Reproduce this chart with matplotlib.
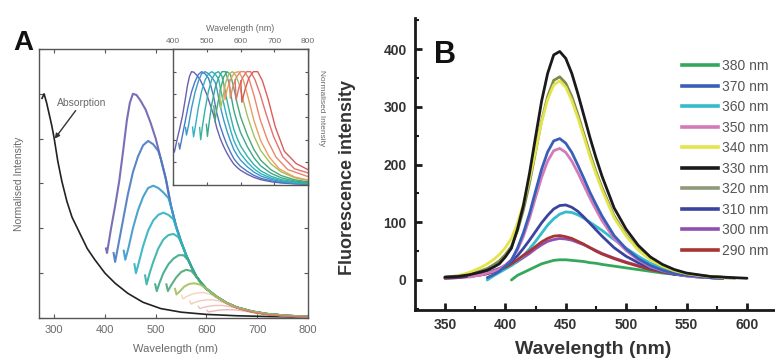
import numpy as np
import matplotlib
matplotlib.use("Agg")
import matplotlib.pyplot as plt
from matplotlib.ticker import MultipleLocator
from matplotlib.lines import Line2D

plt.rcParams['font.family'] = ['Liberation Sans', 'DejaVu Sans']

# ---------------- Panel A: absorption + excitation-dependent emission ----------------
abs_wl = [276, 280, 285, 290, 295, 300, 307, 315, 325, 335, 350, 365, 380, 400, 420,
          445, 475, 510, 550, 600, 660, 730, 800]
abs_int = [0.98, 1.0, 0.96, 0.91, 0.86, 0.80, 0.70, 0.61, 0.52, 0.45, 0.38, 0.31, 0.26,
           0.20, 0.155, 0.11, 0.07, 0.042, 0.026, 0.016, 0.010, 0.006, 0.004]

# common red tail shared by the strong emission curves
tail_wl = [500, 510, 520, 530, 540, 550, 560, 570, 580, 590, 600, 620, 640, 660, 690, 720, 760, 800]
tail_int = [0.80, 0.71, 0.62, 0.50, 0.41, 0.34, 0.28, 0.23, 0.185, 0.155, 0.13, 0.095, 0.067,
            0.047, 0.029, 0.018, 0.010, 0.006]

# rising part of each emission curve (continues on the common tail)
c1_wl = [402, 404, 412, 420, 428, 436, 443, 449, 455, 462, 470, 480, 490]
c1_int = [0.31, 0.29, 0.40, 0.50, 0.61, 0.75, 0.88, 0.96, 1.0, 0.995, 0.97, 0.93, 0.87]
c2_wl = [417, 420, 425, 435, 445, 455, 465, 475, 485, 495, 505]
c2_int = [0.29, 0.25, 0.31, 0.43, 0.55, 0.65, 0.72, 0.77, 0.79, 0.775, 0.745]
c3_wl = [437, 440, 446, 455, 465, 475, 485, 495, 505, 515, 525]
c3_int = [0.30, 0.26, 0.31, 0.40, 0.48, 0.54, 0.58, 0.59, 0.58, 0.56, 0.535]
c4_wl = [458, 461, 467, 475, 485, 495, 505, 515, 525, 535, 545]
c4_int = [0.24, 0.20, 0.25, 0.32, 0.39, 0.435, 0.46, 0.47, 0.46, 0.44, 0.37]
c5_wl = [479, 482, 488, 495, 505, 515, 525, 535, 545, 555]
c5_int = [0.19, 0.15, 0.20, 0.25, 0.31, 0.35, 0.37, 0.375, 0.36, 0.31]
c6_wl = [499, 502, 508, 515, 525, 535, 545, 555, 565]
c6_int = [0.15, 0.12, 0.16, 0.20, 0.24, 0.265, 0.28, 0.28, 0.255]
c7_wl = [521, 524, 530, 540, 550, 560, 570, 580]
c7_int = [0.15, 0.12, 0.145, 0.18, 0.205, 0.215, 0.21, 0.185]
c8_wl = [538, 541, 548, 556, 566, 576, 586, 596]
c8_int = [0.13, 0.105, 0.12, 0.14, 0.152, 0.155, 0.15, 0.138]

# weak red-edge emission curves (complete)
p1_wl = [551, 554, 560, 570, 582, 595, 608, 622, 640, 660, 685, 715, 760, 800]
p1_int = [0.10, 0.085, 0.095, 0.105, 0.112, 0.113, 0.105, 0.088, 0.064, 0.044, 0.028, 0.016, 0.008, 0.005]
p2_wl = [567, 570, 577, 588, 600, 612, 625, 640, 658, 680, 705, 740, 800]
p2_int = [0.075, 0.062, 0.07, 0.077, 0.081, 0.081, 0.076, 0.064, 0.047, 0.032, 0.02, 0.011, 0.006]
p3_wl = [584, 587, 595, 606, 618, 630, 643, 658, 676, 698, 725, 760, 800]
p3_int = [0.052, 0.042, 0.048, 0.053, 0.056, 0.056, 0.052, 0.045, 0.035, 0.024, 0.014, 0.008, 0.006]
p4_wl = [601, 604, 613, 625, 638, 651, 665, 682, 703, 730, 765, 800]
p4_int = [0.034, 0.027, 0.031, 0.035, 0.037, 0.037, 0.034, 0.028, 0.019, 0.011, 0.007, 0.005]

strong_colors = ['#6b5fb0', '#4a78c2', '#3a98cc', '#2fb0c4', '#33b2a6', '#3aa88a', '#4aa874', '#a4c060']
weak_colors = ['#e8a060', '#e88868', '#e47070', '#dc5c5c']


def with_tail(wl, val):
    wl_full = list(wl) + [w for w in tail_wl if w > wl[-1]]
    val_full = list(val) + [v for w, v in zip(tail_wl, tail_int) if w > wl[-1]]
    return np.array(wl_full), np.array(val_full)


strong = [with_tail(w, v) for w, v in [(c1_wl, c1_int), (c2_wl, c2_int), (c3_wl, c3_int),
                                       (c4_wl, c4_int), (c5_wl, c5_int), (c6_wl, c6_int),
                                       (c7_wl, c7_int), (c8_wl, c8_int)]]
weak = [(np.array(w), np.array(v)) for w, v in [(p1_wl, p1_int), (p2_wl, p2_int),
                                                 (p3_wl, p3_int), (p4_wl, p4_int)]]

# ---------------- Panel B: emission at different excitation wavelengths ----------------
nan = np.nan
b_wl = [350, 360, 370, 380, 385, 390, 395, 400, 405, 410, 415, 420, 425, 430, 435, 440,
        445, 450, 455, 460, 465, 470, 475, 480, 490, 500, 510, 520, 530, 540, 550, 560,
        570, 580, 590, 600]
ex380 = [nan, nan, nan, nan, nan, nan, nan, nan, 0, 8, 13, 18, 23, 28, 31, 34,
         35, 35, 34, 33, 32, 30, 29, 27, 24, 21, 18, 15, 12, 10, 8, 7,
         6, 5, nan, nan]
ex370 = [nan, nan, nan, nan, 4, 9, 15, 24, 34, 55, 82, 115, 154, 192, 222, 241,
         245, 237, 221, 199, 176, 152, 131, 111, 77, 54, 37, 25, 17, 11, 8, 6,
         4, 3, nan, nan]
ex360 = [nan, nan, nan, nan, 0, 7, 13, 19, 25, 33, 42, 54, 67, 81, 95, 106,
         114, 118, 117, 113, 107, 100, 93, 86, 70, 55, 41, 29, 20, 14, 9, 6,
         4, 3, nan, nan]
ex350 = [nan, nan, 5, 9, 12, 15, 19, 26, 35, 52, 76, 107, 143, 178, 206, 224,
         228, 221, 206, 186, 164, 142, 122, 103, 72, 51, 35, 23, 16, 11, 7, 5,
         4, 3, nan, nan]
ex340 = [nan, 7, 13, 22, 28, 35, 44, 56, 72, 98, 132, 175, 224, 274, 313, 338,
         345, 334, 311, 281, 248, 214, 184, 156, 108, 76, 52, 35, 24, 16, 11, 8,
         6, 4, nan, nan]
ex330 = [5, 6, 9, 14, 17, 22, 28, 40, 55, 88, 130, 185, 248, 310, 358, 390,
         396, 384, 358, 323, 285, 247, 212, 180, 125, 88, 60, 40, 27, 18, 12, 9,
         6, 5, 4, 3]
ex320 = [5, 7, 10, 16, 20, 26, 33, 44, 58, 85, 122, 168, 222, 276, 318, 346,
         352, 341, 318, 287, 253, 219, 188, 160, 111, 78, 53, 36, 24, 16, 11, 8,
         6, 4, 3, nan]
ex310 = [4, 5, 7, 11, 13, 16, 20, 25, 32, 42, 55, 69, 84, 99, 112, 123,
         129, 130, 126, 119, 109, 98, 87, 76, 56, 41, 30, 21, 15, 10, 7, 5,
         4, 3, nan, nan]
ex300 = [3, 4, 6, 9, 11, 14, 17, 21, 26, 32, 39, 46, 54, 61, 67, 70,
         72, 71, 69, 65, 61, 56, 51, 46, 38, 31, 25, 19, 14, 10, 8, 6,
         4, 3, nan, nan]
ex290 = [3, 4, 6, 9, 11, 14, 18, 22, 28, 35, 43, 50, 58, 66, 72, 76,
         77, 75, 72, 67, 62, 56, 50, 45, 37, 30, 24, 18, 14, 10, 8, 6,
         4, 3, nan, nan]

b_labels = ['380 nm', '370 nm', '360 nm', '350 nm', '340 nm',
            '330 nm', '320 nm', '310 nm', '300 nm', '290 nm']
b_series = [ex380, ex370, ex360, ex350, ex340, ex330, ex320, ex310, ex300, ex290]
b_colors = ['#34a85a', '#3a5fb8', '#34bccb', '#d47ab8', '#e4e44c',
            '#1a1a1a', '#7d8a4a', '#3a44a0', '#9050b0', '#a83434']
b_legend_colors = ['#34a85a', '#3a5fb8', '#34bccb', '#d47ab8', '#e4e44c',
                   '#1a1a1a', '#8e9a78', '#3a44a0', '#9050b0', '#a83434']
draw_order = [0, 8, 2, 9, 7, 3, 1, 6, 4, 5]

# ---------------- figure ----------------
W, H = 775, 358
fig = plt.figure(figsize=(W / 100, H / 100), dpi=100)


def frac_box(x0, y0, x1, y1):
    return [x0 / W, 1 - y1 / H, (x1 - x0) / W, (y1 - y0) / H]


frame_col = '#555555'
text_col = '#6a6a6a'

# main panel A
axA = fig.add_axes(frac_box(39, 49, 308, 318))
axA.plot(abs_wl, abs_int, color='#222222', lw=1.2)
for (wl, val), col in zip(strong, strong_colors):
    axA.plot(wl, val, color=col, lw=1.5, alpha=0.9)
for (wl, val), col in zip(weak, weak_colors):
    axA.plot(wl, val, color=col, lw=1.0, alpha=0.45)
axA.set_xlim(270, 800)
axA.set_ylim(0, 1.2)
axA.set_xticks([300, 400, 500, 600, 700, 800])
axA.set_yticks(np.arange(0, 1.21, 0.2))
axA.set_yticklabels([])
axA.tick_params(direction='in', top=True, right=True, length=3, width=0.8,
                color=frame_col, labelcolor=text_col, labelsize=8, pad=5)
for s in axA.spines.values():
    s.set_color(frame_col)
    s.set_linewidth(1.0)
axA.set_xlabel('Wavelength (nm)', fontsize=8, color=text_col)
axA.xaxis.set_label_coords(0.506, -0.095)
axA.set_ylabel('Normalised Intensity', fontsize=7.5, color=text_col)
axA.yaxis.set_label_coords(-0.055, 0.5)
axA.annotate('Absorption', xy=(301, 0.80), xytext=(305, 0.96), fontsize=7.5,
             color=text_col, va='center', ha='left',
             arrowprops=dict(arrowstyle='-|>', color='#333333', lw=1.0,
                             shrinkA=0, shrinkB=0, mutation_scale=7,
                             connectionstyle='arc3'),
             annotation_clip=False)

# inset: the same emission curves, each normalised to its maximum
axI = fig.add_axes(frac_box(173, 49, 308, 185))
for (wl, val), col in zip(strong + weak, strong_colors + weak_colors):
    axI.plot(wl, val / val.max(), color=col, lw=1.0)
axI.set_xlim(400, 800)
axI.set_ylim(0, 1.2)
axI.set_xticks([400, 500, 600, 700, 800])
axI.set_yticks([0.2, 0.4, 0.6, 0.8, 1.0])
axI.set_yticklabels([])
axI.tick_params(direction='in', top=True, right=True, bottom=True, left=True,
                labeltop=True, labelbottom=False, length=2.5, width=0.8,
                color=frame_col, labelcolor=text_col, labelsize=6, pad=3)
for s in axI.spines.values():
    s.set_color(frame_col)
    s.set_linewidth(1.0)
axI.xaxis.set_label_position('top')
axI.set_xlabel('Wavelength (nm)', fontsize=6.5, color=text_col, labelpad=5)
fig.text(321 / W, 1 - 108 / H, 'Normalised Intensity', rotation=270, fontsize=6,
         color=text_col, ha='center', va='center')

fig.text(13 / W, 1 - 50 / H, 'A', fontsize=20, fontweight='bold', color='#111111',
         va='baseline', ha='left')

# panel B
axB = fig.add_axes(frac_box(415, 18, 775, 310))
for i in draw_order:
    axB.plot(b_wl, b_series[i], color=b_colors[i], lw=2.0,
             solid_capstyle='round', solid_joinstyle='round')
axB.set_xlim(325.2, 623.2)
axB.set_ylim(-52, 454)
axB.set_xticks([350, 400, 450, 500, 550, 600])
axB.set_yticks([0, 100, 200, 300, 400])
axB.xaxis.set_minor_locator(MultipleLocator(25))
axB.yaxis.set_minor_locator(MultipleLocator(50))
axB.spines['top'].set_visible(False)
axB.spines['right'].set_visible(False)
for s in ('left', 'bottom'):
    axB.spines[s].set_linewidth(2.0)
    axB.spines[s].set_color('#1a1a1a')
axB.tick_params(which='major', direction='in', length=5, width=2.0, color='#1a1a1a',
                labelsize=10, labelcolor='#333333', pad=6)
axB.tick_params(which='minor', direction='in', length=3, width=1.5, color='#1a1a1a')
for lab in axB.get_xticklabels() + axB.get_yticklabels():
    lab.set_fontweight('bold')
axB.set_xlabel('Wavelength (nm)', fontsize=14, fontweight='bold', color='#333333')
axB.xaxis.set_label_coords(0.494, -0.105)
axB.set_ylabel('Fluorescence intensity', fontsize=13, fontweight='bold', color='#333333')
axB.yaxis.set_label_coords(-0.165, 0.455)

handles = [Line2D([], [], color=b_legend_colors[i], lw=2.6) for i in range(len(b_labels))]
leg = fig.legend(handles, b_labels, loc='upper left', bbox_to_anchor=(682 / W, 1 - 59 / H),
                 frameon=False, fontsize=10, handlelength=2.6, handletextpad=0.3,
                 labelspacing=0.47, borderpad=0, borderaxespad=0)
for t in leg.get_texts():
    t.set_color('#555555')

fig.text(434 / W, 1 - 63 / H, 'B', fontsize=22, fontweight='bold', color='#111111',
         va='baseline', ha='left')

fig.savefig('out.png', dpi=100)
